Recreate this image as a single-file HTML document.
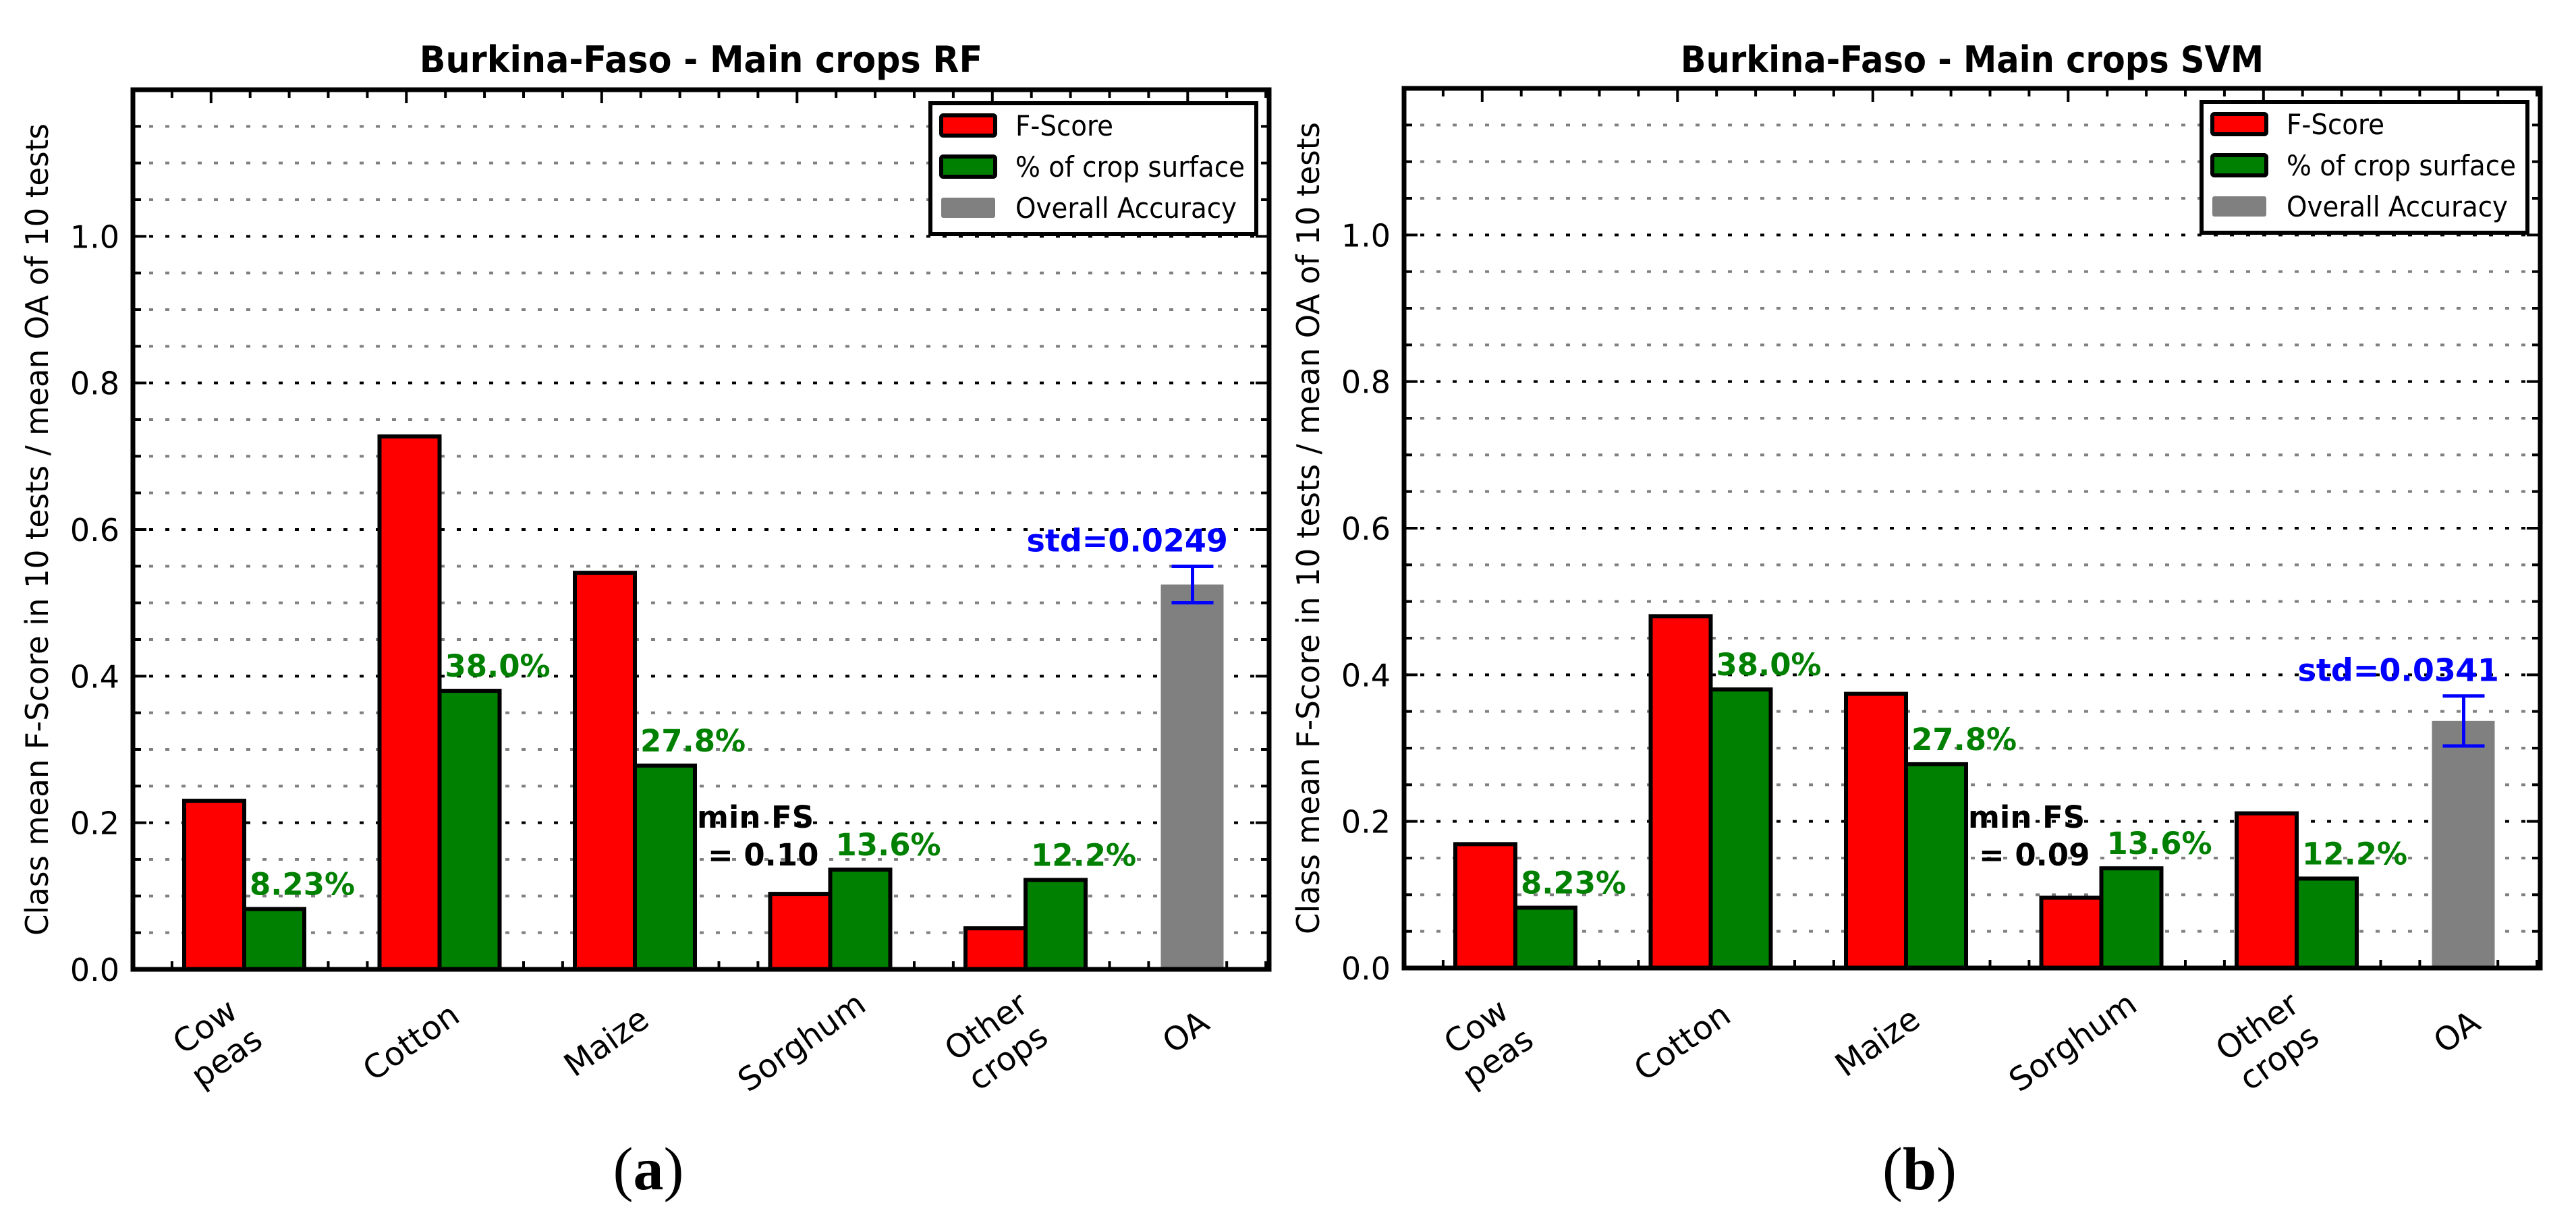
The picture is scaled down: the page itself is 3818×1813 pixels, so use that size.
<!DOCTYPE html>
<html><head><meta charset="utf-8"><style>
html,body{margin:0;padding:0;background:#fff;}
svg{display:block;}
</style></head><body>
<svg id="fig" width="3818" height="1813" viewBox="0 0 3818 1813" xmlns="http://www.w3.org/2000/svg" font-family="DejaVu Sans, Liberation Sans, sans-serif"></svg>
<script>
const categories = ["Cow\npeas","Cotton","Maize","Sorghum","Other\ncrops"];
const rfFScore = [0.230, 0.727, 0.541, 0.103, 0.056];
const svmFScore = [0.169, 0.480, 0.374, 0.096, 0.211];
const cropSurface = [0.0823, 0.380, 0.278, 0.136, 0.122];
const cropSurfaceLabels = ["8.23%","38.0%","27.8%","13.6%","12.2%"];
const rfOA = [0.525];
const rfStd = [0.0249];
const svmOA = [0.337];
const svmStd = [0.0341];
const yTicks = [0.0,0.2,0.4,0.6,0.8,1.0];
const titles = ["Burkina-Faso - Main crops RF","Burkina-Faso - Main crops SVM"];
const minFSLabels = ["= 0.10","= 0.09"];
const panelLabels = ["a","b"];

const NS="http://www.w3.org/2000/svg";
const svg=document.getElementById('fig');
function mk(tag,attrs,parent){const e=document.createElementNS(NS,tag);for(const k in attrs)e.setAttribute(k,attrs[k]);(parent||svg).appendChild(e);return e;}

function drawChart(ox, top, bottom, right, fscore, oa, std, title, minLbl, panel, idx){
  const g=mk('g',{});
  
  
  const left=ox;
  const yMax=1.2;
  const y=v=>bottom-(v/yMax)*(bottom-top);
  const unit=289.5;
  const bw=89;
  const x=i=>left+76+i*unit;
  for(let k=1;k<24;k++){
    const v=k*0.05; const major=(k%4===0);
    const ln=mk('line',{x1:left,x2:right,y1:y(v),y2:y(v),stroke:major?'#000':'#808080','stroke-width':4,'stroke-dasharray':'6 18'},g);
    
    
    const tl=major?20:12;
    mk('line',{x1:left,x2:left+tl,y1:y(v),y2:y(v),stroke:'#000','stroke-width':4},g);
    mk('line',{x1:right-tl,x2:right,y1:y(v),y2:y(v),stroke:'#000','stroke-width':4},g);
  }
  for(let k=1;k*unit/5<right-left;k++){
    const xx=left+k*unit/5; const major=(k%5===2);
    const tl=major?20:12;
    mk('line',{x1:xx,x2:xx,y1:bottom-tl,y2:bottom,stroke:'#000','stroke-width':4},g);
    mk('line',{x1:xx,x2:xx,y1:top,y2:top+tl,stroke:'#000','stroke-width':4},g);
  }
  yTicks.forEach(v=>{
    const t=mk('text',{x:left-20,y:y(v)+17,'text-anchor':'end','font-size':46},g);
    t.textContent=v.toFixed(1);
    
    
  });
  categories.forEach((c,i)=>{
    const r=mk('rect',{x:x(i),y:y(fscore[i]),width:bw,height:bottom-y(fscore[i]),fill:'#ff0000',stroke:'#000','stroke-width':6},g);
    
    
    const gr=mk('rect',{x:x(i)+bw,y:y(cropSurface[i]),width:bw,height:bottom-y(cropSurface[i]),fill:'#008000',stroke:'#000','stroke-width':6},g);
    
    
    const t=mk('text',{x:x(i)+bw+8,y:y(cropSurface[i])-21,'font-size':45,'font-weight':'bold',fill:'#008000'},g);
    t.textContent=cropSurfaceLabels[i];
    
    
    const cx=x(i)+bw-42, cy=1545;
    const lg=mk('g',{transform:`translate(${cx},${cy}) rotate(-35)`},g);
    const lines=c.split('\n');
    lines.forEach((ln,j)=>{
      const tt=mk('text',{x:0,y:(j-(lines.length-1)/2)*56+16,'text-anchor':'middle','font-size':48},lg);
      tt.textContent=ln;
      
      
    });
  });
  const oi=categories.length;
  const ob=mk('rect',{x:x(oi),y:y(oa[0]),width:93,height:bottom-y(oa[0]),fill:'#808080'},g);
  
  
  const ocx=x(oi)+47;
  const eg=mk('g',{stroke:'#0000ff','stroke-width':5},g);
  
  
  mk('line',{x1:ocx,x2:ocx,y1:y(oa[0]+std[0]),y2:y(oa[0]-std[0])},eg);
  mk('line',{x1:ocx-31,x2:ocx+31,y1:y(oa[0]+std[0]),y2:y(oa[0]+std[0])},eg);
  mk('line',{x1:ocx-31,x2:ocx+31,y1:y(oa[0]-std[0]),y2:y(oa[0]-std[0])},eg);
  const st=mk('text',{x:x(oi)-199,y:y(oa[0]+std[0])-22,'font-size':46,'font-weight':'bold',fill:'#0000ff'},g);
  st.textContent='std='+std[0].toFixed(4);
  
  
  const ol=mk('g',{transform:`translate(${ocx-10},1530) rotate(-35)`},g);
  const ot=mk('text',{x:0,y:16,'text-anchor':'middle','font-size':48},ol);
  ot.textContent='OA';
  
  
  const m1=mk('text',{x:left+836,y:1227,'font-size':45,'font-weight':'bold'},g);
  m1.textContent='min FS';
  
  
  const m2=mk('text',{x:left+852,y:1283,'font-size':45,'font-weight':'bold'},g);
  m2.textContent=minLbl;
  
  
  const fr=mk('rect',{x:left,y:top,width:right-left,height:bottom-top,fill:'none',stroke:'#000','stroke-width':7},g);
  
  
  const lx=left+1182, ly=top+20;
  const leg=mk('g',{},g);
  
  
  mk('rect',{x:lx,y:ly,width:483,height:194,fill:'#fff',stroke:'#000','stroke-width':6},leg);
  const items=[['F-Score','#ff0000',true,145],['% of crop surface','#008000',true,340],['Overall Accuracy','#808080',false,328]];
  items.forEach((it,j)=>{
    const yy=ly+18+j*61;
    const p=mk('rect',{x:lx+16,y:yy,width:80,height:30,fill:it[1],stroke:it[2]?'#000':'none','stroke-width':6,rx:3},leg);
    
    
    const t=mk('text',{x:lx+126,y:yy+30,'font-size':42,textLength:it[3],lengthAdjust:'spacingAndGlyphs'},leg);
    t.textContent=it[0];
    
    
  });
  const tt=mk('text',{x:(left+right)/2,y:107,'text-anchor':'middle','font-size':54,'font-weight':'bold',textLength:title.length*29.8,lengthAdjust:'spacingAndGlyphs'},g);
  tt.textContent=title;
  
  
  const yl=mk('text',{x:0,y:0,'text-anchor':'middle','font-size':46,textLength:1204,lengthAdjust:'spacingAndGlyphs',transform:`translate(${left-126},${(top+bottom)/2}) rotate(-90)`},g);
  yl.textContent='Class mean F-Score in 10 tests / mean OA of 10 tests';
  
  
  const pl=mk('text',{x:(left+right)/2-78,y:1763,'text-anchor':'middle','font-size':90,'font-family':'Liberation Serif, serif'},g);
  
  
  const a1=mk('tspan',{},pl);a1.textContent='(';
  const a2=mk('tspan',{'font-weight':'bold'},pl);a2.textContent=panel;
  const a3=mk('tspan',{},pl);a3.textContent=')';
}
drawChart(197,133,1437,1881,rfFScore,rfOA,rfStd,titles[0],minFSLabels[0],panelLabels[0],0);
drawChart(2081,131,1435,3765,svmFScore,svmOA,svmStd,titles[1],minFSLabels[1],panelLabels[1],1);
</script>
</body></html>
